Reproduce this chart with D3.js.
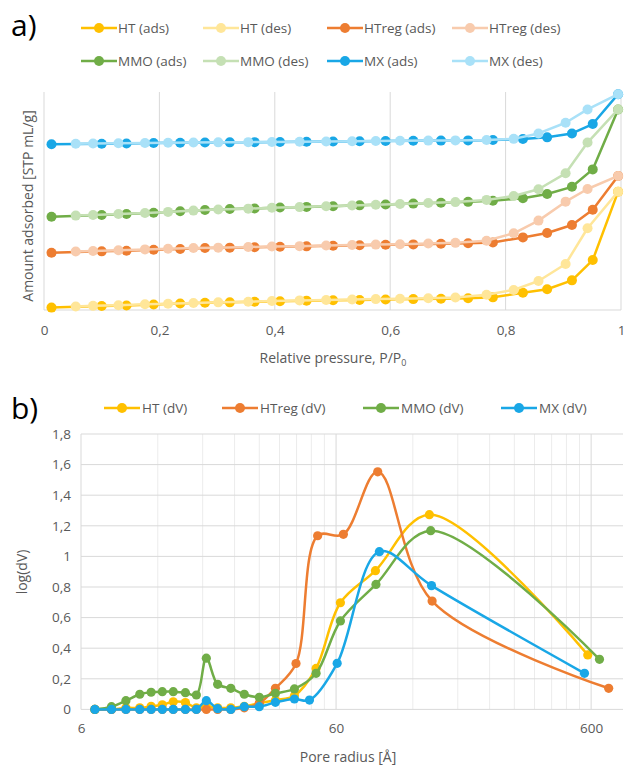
<!DOCTYPE html>
<html>
<head>
<meta charset="utf-8">
<script src="https://cdn.jsdelivr.net/npm/d3@7"></script>
<style>
  html, body { margin: 0; padding: 0; background: #fff; }
  svg { display: block; font-family: "Open Sans", "Noto Sans", sans-serif; }
  .tick text { fill: #595959; }
</style>
</head>
<body>
<svg id="fig" width="627" height="767"></svg>
<script>
// ---------- a) N2 isotherms (relative pressure vs amount adsorbed, relative units) ----------
const pressureAds = [0.013, 0.100, 0.143, 0.190, 0.236, 0.279, 0.322, 0.365, 0.409, 0.455, 0.501,
                     0.547, 0.592, 0.640, 0.688, 0.735, 0.778, 0.830, 0.872, 0.915, 0.951, 0.995];
const pressureDes = [0.055, 0.085, 0.129, 0.175, 0.215, 0.259, 0.302, 0.354, 0.395, 0.443, 0.489,
                     0.534, 0.575, 0.617, 0.666, 0.713, 0.767, 0.814, 0.857, 0.904, 0.942, 0.995];

const htAds    = [1.1, 1.8, 2.1, 2.5, 3.0, 3.3, 3.5, 3.8, 4.0, 4.3, 4.5, 4.6, 4.8, 5.0, 5.2, 5.4, 5.8, 7.9, 9.5, 13.6, 22.9, 54.3];
const htDes    = [1.6, 1.9, 2.2, 2.6, 2.9, 3.2, 3.5, 3.8, 4.1, 4.4, 4.6, 4.8, 5.0, 5.2, 5.4, 5.7, 7.0, 9.2, 13.3, 21.1, 37.5, 54.3];
const htregAds = [26.3, 26.9, 27.2, 27.6, 28.0, 28.4, 28.6, 28.8, 29.0, 29.2, 29.5, 29.7, 29.9, 30.1, 30.4, 30.6, 31.0, 33.3, 35.3, 39.0, 46.0, 61.5];
const htregDes = [26.8, 27.1, 27.4, 27.8, 28.1, 28.4, 28.6, 28.9, 29.1, 29.3, 29.6, 29.8, 30.0, 30.2, 30.5, 30.8, 31.8, 35.2, 41.0, 49.7, 55.5, 61.5];
const mmoAds   = [42.8, 43.6, 44.0, 44.6, 45.3, 45.9, 46.3, 46.6, 47.0, 47.3, 47.6, 48.0, 48.4, 48.8, 49.2, 49.6, 50.1, 51.3, 53.2, 56.5, 64.5, 92.0];
const mmoDes   = [43.3, 43.6, 44.0, 44.5, 45.0, 45.6, 46.1, 46.5, 46.9, 47.2, 47.6, 47.9, 48.3, 48.6, 49.1, 49.5, 50.5, 52.3, 55.4, 62.7, 76.8, 92.0];
const mxAds    = [76.0, 76.3, 76.4, 76.6, 76.7, 76.8, 76.9, 77.0, 77.1, 77.2, 77.3, 77.4, 77.5, 77.6, 77.7, 77.8, 78.0, 78.4, 79.2, 81.0, 85.3, 99.0];
const mxDes    = [76.3, 76.4, 76.5, 76.6, 76.7, 76.8, 76.9, 77.0, 77.1, 77.2, 77.3, 77.4, 77.5, 77.6, 77.7, 77.8, 78.0, 78.5, 81.0, 85.9, 92.0, 99.0];

const pressureTicks = [0, 0.2, 0.4, 0.6, 0.8, 1];

// ---------- b) pore size distribution ----------
const htRadius    = [6.8, 7.9, 9.0, 10.2, 11.3, 12.5, 13.8, 15.4, 17.0, 18.6, 20.6, 23.2, 26.2, 30.0, 34.7, 41.2, 50.1, 62.4, 85.6, 139.3, 582];
const htDv        = [0, 0, 0.01, 0.01, 0.02, 0.03, 0.05, 0.045, 0.01, 0.02, 0.01, 0.01, 0.02, 0.04, 0.06, 0.09, 0.268, 0.697, 0.907, 1.273, 0.356];
const htregRadius = [6.8, 7.9, 9.0, 10.2, 11.3, 12.5, 13.8, 15.4, 17.0, 18.6, 20.6, 23.2, 26.2, 30.0, 34.7, 41.8, 50.8, 64.1, 87.4, 142.8, 703];
const htregDv     = [0, 0, 0, 0, 0, 0, 0, 0, 0, 0, 0, 0, 0.01, 0.04, 0.138, 0.30, 1.135, 1.144, 1.553, 0.708, 0.138];
const mmoRadius   = [6.8, 7.9, 9.0, 10.2, 11.3, 12.5, 13.8, 15.4, 17.0, 18.6, 20.6, 23.2, 26.2, 30.0, 34.7, 41.2, 50.1, 62.4, 86.0, 141, 647];
const mmoDv       = [0, 0.018, 0.057, 0.099, 0.112, 0.116, 0.116, 0.109, 0.094, 0.335, 0.164, 0.138, 0.099, 0.079, 0.105, 0.134, 0.236, 0.578, 0.817, 1.168, 0.327];
const mxRadius    = [6.8, 7.9, 9.0, 10.2, 11.3, 12.5, 13.8, 15.4, 17.0, 18.6, 20.6, 23.2, 26.2, 30.0, 34.7, 41.2, 47.2, 60.6, 88.7, 142, 565];
const mxDv        = [0, 0, 0, 0, 0, 0, 0, 0, 0, 0.057, 0.005, 0, 0.018, 0.018, 0.046, 0.068, 0.061, 0.301, 1.031, 0.809, 0.236];

const logDvTicks = [0, 0.2, 0.4, 0.6, 0.8, 1, 1.2, 1.4, 1.6, 1.8];
const radiusLabelTicks = [6, 60, 600];

const comma = v => d3.format("~g")(v).replace(".", ",");
const GRID = "#d9d9d9";
const svg = d3.select("#fig");

// ================= panel a =================
const isoSeries = [
  { name: "HT (ads)",    x: pressureAds, y: htAds,    color: "#FFC000" },
  { name: "HT (des)",    x: pressureDes, y: htDes,    color: "#FFE699" },
  { name: "HTreg (ads)", x: pressureAds, y: htregAds, color: "#ED7D31" },
  { name: "HTreg (des)", x: pressureDes, y: htregDes, color: "#F8CBAD" },
  { name: "MMO (ads)",   x: pressureAds, y: mmoAds,   color: "#70AD47" },
  { name: "MMO (des)",   x: pressureDes, y: mmoDes,   color: "#C5E0B4" },
  { name: "MX (ads)",    x: pressureAds, y: mxAds,    color: "#19A7E6" },
  { name: "MX (des)",    x: pressureDes, y: mxDes,    color: "#A9E1F8" }
];

const xA = d3.scaleLinear().domain([0, 1]).range([44, 621]);
const yA = d3.scaleLinear().domain([0, 100]).range([310, 92]);

const gA = svg.append("g");
gA.selectAll("line.vgrid").data(pressureTicks).join("line")
  .attr("x1", d => xA(d)).attr("x2", d => xA(d))
  .attr("y1", yA(100)).attr("y2", yA(0))
  .attr("stroke", GRID).attr("stroke-width", 1);
gA.append("line").attr("x1", xA(0)).attr("x2", xA(1)).attr("y1", yA(0)).attr("y2", yA(0))
  .attr("stroke", GRID).attr("stroke-width", 1);

const axA = gA.append("g").attr("transform", `translate(0,${yA(0)})`)
  .call(d3.axisBottom(xA).tickValues(pressureTicks).tickFormat(comma).tickSize(0).tickPadding(15));
axA.select(".domain").remove();
axA.selectAll("text").attr("font-size", 13.5).attr("font-family", "Open Sans");

const titleA = gA.append("text").attr("x", 333).attr("y", 363).attr("text-anchor", "middle")
  .attr("font-size", 14).attr("fill", "#595959");
titleA.append("tspan").text("Relative pressure, P/P");
titleA.append("tspan").attr("font-size", 9).attr("dy", 3).text("0");

gA.append("text").attr("transform", "translate(28,206) rotate(-90)")
  .attr("text-anchor", "middle").attr("dy", "0.35em")
  .attr("font-size", 14).attr("fill", "#595959").text("Amount adsorbed [STP mL/g]");

const lineA = d3.line().x(d => xA(d[0])).y(d => yA(d[1]));
isoSeries.forEach(s => {
  const pts = s.x.map((p, i) => [p, s.y[i]]);
  const g = gA.append("g");
  g.append("path").datum(pts).attr("d", lineA).attr("fill", "none")
    .attr("stroke", s.color).attr("stroke-width", 2.5).attr("stroke-linejoin", "round");
  g.selectAll("circle").data(pts).join("circle")
    .attr("cx", d => xA(d[0])).attr("cy", d => yA(d[1])).attr("r", 5).attr("fill", s.color);
});

// legend a
const legA = svg.append("g");
const legAcols = [81, 203, 327, 452];
isoSeries.forEach((s, i) => {
  const row = i < 4 ? 0 : 1;
  const col = i % 4;
  const lx = legAcols[col], ly = row === 0 ? 28 : 61;
  const g = legA.append("g");
  g.append("line").attr("x1", lx).attr("x2", lx + 36).attr("y1", ly).attr("y2", ly)
    .attr("stroke", s.color).attr("stroke-width", 2.5);
  g.append("circle").attr("cx", lx + 18).attr("cy", ly).attr("r", 5).attr("fill", s.color);
  g.append("text").attr("x", lx + 37).attr("y", ly).attr("dy", "0.35em")
    .attr("font-size", 13.5).attr("fill", "#595959").text(s.name);
});
svg.append("text").attr("x", 11).attr("y", 36).attr("font-size", 30).attr("fill", "#000").text("a)");

// ================= panel b =================
const psdSeries = [
  { name: "HT (dV)",    x: htRadius,    y: htDv,    color: "#FFC000" },
  { name: "HTreg (dV)", x: htregRadius, y: htregDv, color: "#ED7D31" },
  { name: "MMO (dV)",   x: mmoRadius,   y: mmoDv,   color: "#70AD47" },
  { name: "MX (dV)",    x: mxRadius,    y: mxDv,    color: "#19A7E6" }
];

const xB = d3.scaleLog().domain([6, 800]).range([81, 623]);
const yB = d3.scaleLinear().domain([0, 1.8]).range([709.4, 434]);

const gB = svg.append("g");
// vertical gridlines: every multiple of 6, 60, 600 inside the domain
const minorR = [];
radiusLabelTicks.forEach(base => { for (let k = 1; k <= 9; k++) { const r = base * k; if (r <= 800) minorR.push(r); } });
gB.selectAll("line.vg").data(minorR).join("line")
  .attr("x1", d => xB(d)).attr("x2", d => xB(d)).attr("y1", yB(1.8)).attr("y2", yB(0))
  .attr("stroke", d => radiusLabelTicks.includes(d) ? GRID : "#ececec").attr("stroke-width", 1);
gB.selectAll("line.hg").data(logDvTicks).join("line")
  .attr("x1", 81).attr("x2", 623).attr("y1", d => yB(d)).attr("y2", d => yB(d))
  .attr("stroke", GRID).attr("stroke-width", 1);

const axBy = gB.append("g").attr("transform", "translate(81,0)")
  .call(d3.axisLeft(yB).tickValues(logDvTicks).tickFormat(comma).tickSize(0).tickPadding(10));
axBy.select(".domain").remove();
axBy.selectAll("text").attr("font-size", 13.5).attr("font-family", "Open Sans");

const axBx = gB.append("g").attr("transform", `translate(0,${yB(0)})`)
  .call(d3.axisBottom(xB).tickValues(radiusLabelTicks).tickFormat(d3.format("d")).tickSize(0).tickPadding(14));
axBx.select(".domain").remove();
axBx.selectAll("text").attr("font-size", 13.5).attr("font-family", "Open Sans");

gB.append("text").attr("x", 348).attr("y", 762).attr("text-anchor", "middle")
  .attr("font-size", 14).attr("fill", "#595959").text("Pore radius [Å]");
gB.append("text").attr("transform", "translate(22,572) rotate(-90)")
  .attr("text-anchor", "middle").attr("dy", "0.35em")
  .attr("font-size", 14).attr("fill", "#595959").text("log(dV)");

const lineB = d3.line().x(d => xB(d[0])).y(d => yB(d[1])).curve(d3.curveCatmullRom.alpha(0.5));
psdSeries.forEach(s => {
  const pts = s.x.map((r, i) => [r, s.y[i]]);
  const g = gB.append("g");
  g.append("path").datum(pts).attr("d", lineB).attr("fill", "none")
    .attr("stroke", s.color).attr("stroke-width", 2.5).attr("stroke-linejoin", "round");
  g.selectAll("circle").data(pts).join("circle")
    .attr("cx", d => xB(d[0])).attr("cy", d => yB(d[1])).attr("r", 4.6).attr("fill", s.color);
});

// legend b
const legBcols = [104, 222, 363, 501];
psdSeries.forEach((s, i) => {
  const lx = legBcols[i], ly = 408;
  const g = svg.append("g");
  g.append("line").attr("x1", lx).attr("x2", lx + 36).attr("y1", ly).attr("y2", ly)
    .attr("stroke", s.color).attr("stroke-width", 2.5);
  g.append("circle").attr("cx", lx + 18).attr("cy", ly).attr("r", 5).attr("fill", s.color);
  g.append("text").attr("x", lx + 38).attr("y", ly).attr("dy", "0.35em")
    .attr("font-size", 13.5).attr("fill", "#595959").text(s.name);
});
svg.append("text").attr("x", 11).attr("y", 419).attr("font-size", 30).attr("fill", "#000").text("b)");
</script>
</body>
</html>
